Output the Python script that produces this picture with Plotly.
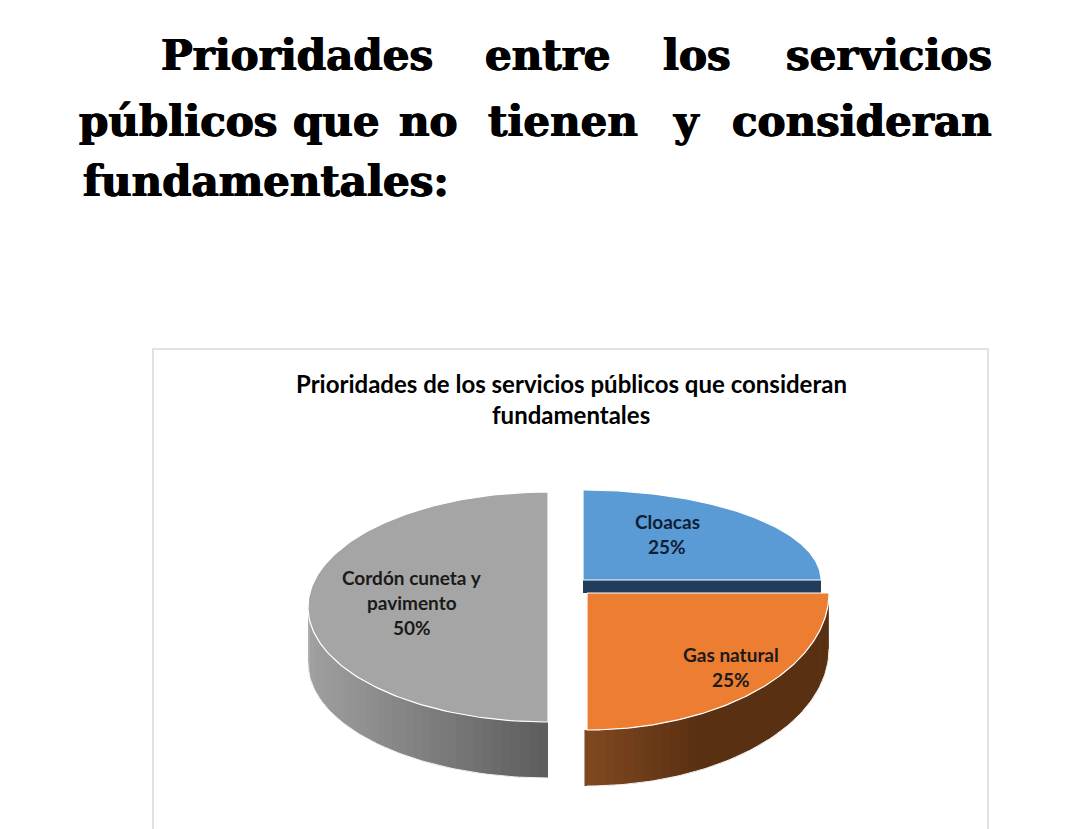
import numpy as np
import plotly.graph_objects as go

# ---------------- data ----------------
categories = ["Cloacas", "Gas natural", "Cordón cuneta y pavimento"]
label_lines = [["Cloacas"], ["Gas natural"], ["Cordón cuneta y", "pavimento"]]
percentages = [25, 25, 50]

heading_lines = [
    ["Prioridades", "entre", "los", "servicios"],
    ["públicos", "que", "no", "tienen", "y", "consideran"],
    ["fundamentales:"],
]
chart_title = ["Prioridades de los servicios públicos que consideran", "fundamentales"]

# ---------------- styling / layout ----------------
W, H = 1080, 829
top_colors = ["#5B9BD5", "#ED7D31", "#A5A5A5"]
side_left = ["#2a4a70", "#80481f", "#a0a0a0"]
side_right = ["#1e3553", "#5a3013", "#5c5c5c"]
cut_color = ["#223c5c", "#5a3013", "#6a6a6a"]
# per-slice projected ellipse (perspective view -> slightly different per slice)
geom = [
    dict(cx=583, cy=580, rx=238, ry=90),
    dict(cx=587, cy=593, rx=242, ry=137),
    dict(cx=548, cy=607, rx=240, ry=115),
]
depth = 56
cut_visible = 13
label_pos = [(667, 534), (731, 667), (412, 602)]

fig = go.Figure()


def arc(g, a0, a1, n=120, dy=0.0):
    t = np.radians(np.linspace(a0, a1, n))
    return g["cx"] + g["rx"] * np.sin(t), g["cy"] - g["ry"] * np.cos(t) + dy


def hexmix(c1, c2, f):
    a = [int(c1[i:i + 2], 16) for i in (1, 3, 5)]
    b = [int(c2[i:i + 2], 16) for i in (1, 3, 5)]
    return "#%02x%02x%02x" % tuple(round(a[k] + (b[k] - a[k]) * f) for k in range(3))


def poly(x, y, color, line_color=None, lw=0):
    fig.add_trace(go.Scatter(
        x=list(x), y=list(y), mode="lines", fill="toself", fillcolor=color,
        line=dict(color=line_color or color, width=lw), hoverinfo="skip",
        showlegend=False))


total = float(sum(percentages))
starts = np.concatenate([[0], np.cumsum(percentages)[:-1]]) / total * 360
spans = np.array(percentages) / total * 360

draw_order = [0, 2, 1]  # back to front
for i in draw_order:
    g = geom[i]
    a0, a1 = starts[i], starts[i] + spans[i]
    # radial cut face facing the viewer (edge at 90 deg), mostly hidden by the next slice
    if abs(a1 - 90) < 1e-6:
        x1, y1 = g["cx"] + g["rx"], g["cy"]
        poly([g["cx"], x1, x1, g["cx"]], [g["cy"], y1, y1 + cut_visible, g["cy"] + cut_visible], cut_color[i])
    # outer wall, front half only (90..270), gradient by x
    w0, w1 = max(a0, 90), min(a1, 270)
    if w1 > w0:
        nseg = 40
        edges = np.linspace(w0, w1, nseg + 1)
        xmin = g["cx"] - g["rx"]
        for k in range(nseg):
            xs, ys = arc(g, edges[k], edges[k + 1] + 0.6, 8)
            xb, yb = arc(g, edges[k + 1] + 0.6, edges[k], 8, dy=depth)
            xm = np.mean(xs)
            if i == 2:
                f = (xm - xmin) / (g["cx"] - xmin)
            else:
                f = min(1.0, (xm - g["cx"]) / (0.45 * g["rx"]))
            f = min(max(f, 0), 1)
            poly(np.concatenate([xs, xb]), np.concatenate([ys, yb]),
                 hexmix(side_left[i], side_right[i], f))
        xb, yb = arc(g, w0, w1, 80, dy=depth)
        fig.add_trace(go.Scatter(x=xb, y=yb, mode="lines", line=dict(color="#f2f2f2", width=1),
                                 hoverinfo="skip", showlegend=False))
    # top face
    xa, ya = arc(g, a0, a1, 160)
    poly(np.concatenate([[g["cx"]], xa, [g["cx"]]]), np.concatenate([[g["cy"]], ya, [g["cy"]]]),
         top_colors[i], "#ffffff", 1.2)

# data labels
label_colors = ["#0f1e36", "#1a1a1a", "#1a1a1a"]
for i, lines in enumerate(label_lines):
    txt = lines + ["%d%%" % percentages[i]]
    lx, ly = label_pos[i]
    n = len(txt)
    for j, t in enumerate(txt):
        fig.add_annotation(x=lx, y=ly + (j - (n - 1) / 2) * 25, xref="x", yref="y", text="<b>%s</b>" % t,
                           showarrow=False, font=dict(family="Lato", size=19, color=label_colors[i]))

# chart title
for j, t in enumerate(chart_title):
    fig.add_annotation(x=571, y=383 + j * 31, xref="x", yref="y", text="<b>%s</b>" % t, showarrow=False,
                       font=dict(family="Lato", size=24, color="#000000"))

# document heading (justified text, word by word)
word_x = [[297, 548, 697, 889], [178, 336, 428, 563, 686, 862], [81]]
word_anchor = [["center"] * 4, ["center"] * 6, ["left"]]
line_y = [55, 121, 181]
for li, words in enumerate(heading_lines):
    for wi, w in enumerate(words):
        fig.add_annotation(x=word_x[li][wi], y=line_y[li], xref="x", yref="y", text="<b>%s</b>" % w,
                           showarrow=False, xanchor=word_anchor[li][wi], yanchor="middle",
                           font=dict(family="DejaVu Serif", size=42, color="#000000",
                                     shadow="0.7px 0 0 #000, -0.7px 0 0 #000"))

# chart area border
fig.add_shape(type="rect", x0=153, y0=349, x1=988, y1=860, xref="x", yref="y",
              line=dict(color="#d9d9d9", width=1.5), fillcolor="rgba(0,0,0,0)", layer="below")

fig.update_layout(
    width=W, height=H, margin=dict(l=0, r=0, t=0, b=0),
    paper_bgcolor="white", plot_bgcolor="white", showlegend=False,
    xaxis=dict(range=[0, W], visible=False, fixedrange=True),
    yaxis=dict(range=[H, 0], visible=False, fixedrange=True),
)

fig.write_html("out.html", config={"displayModeBar": False},
               post_script="document.body.style.margin='0';document.body.style.overflow='hidden';")
